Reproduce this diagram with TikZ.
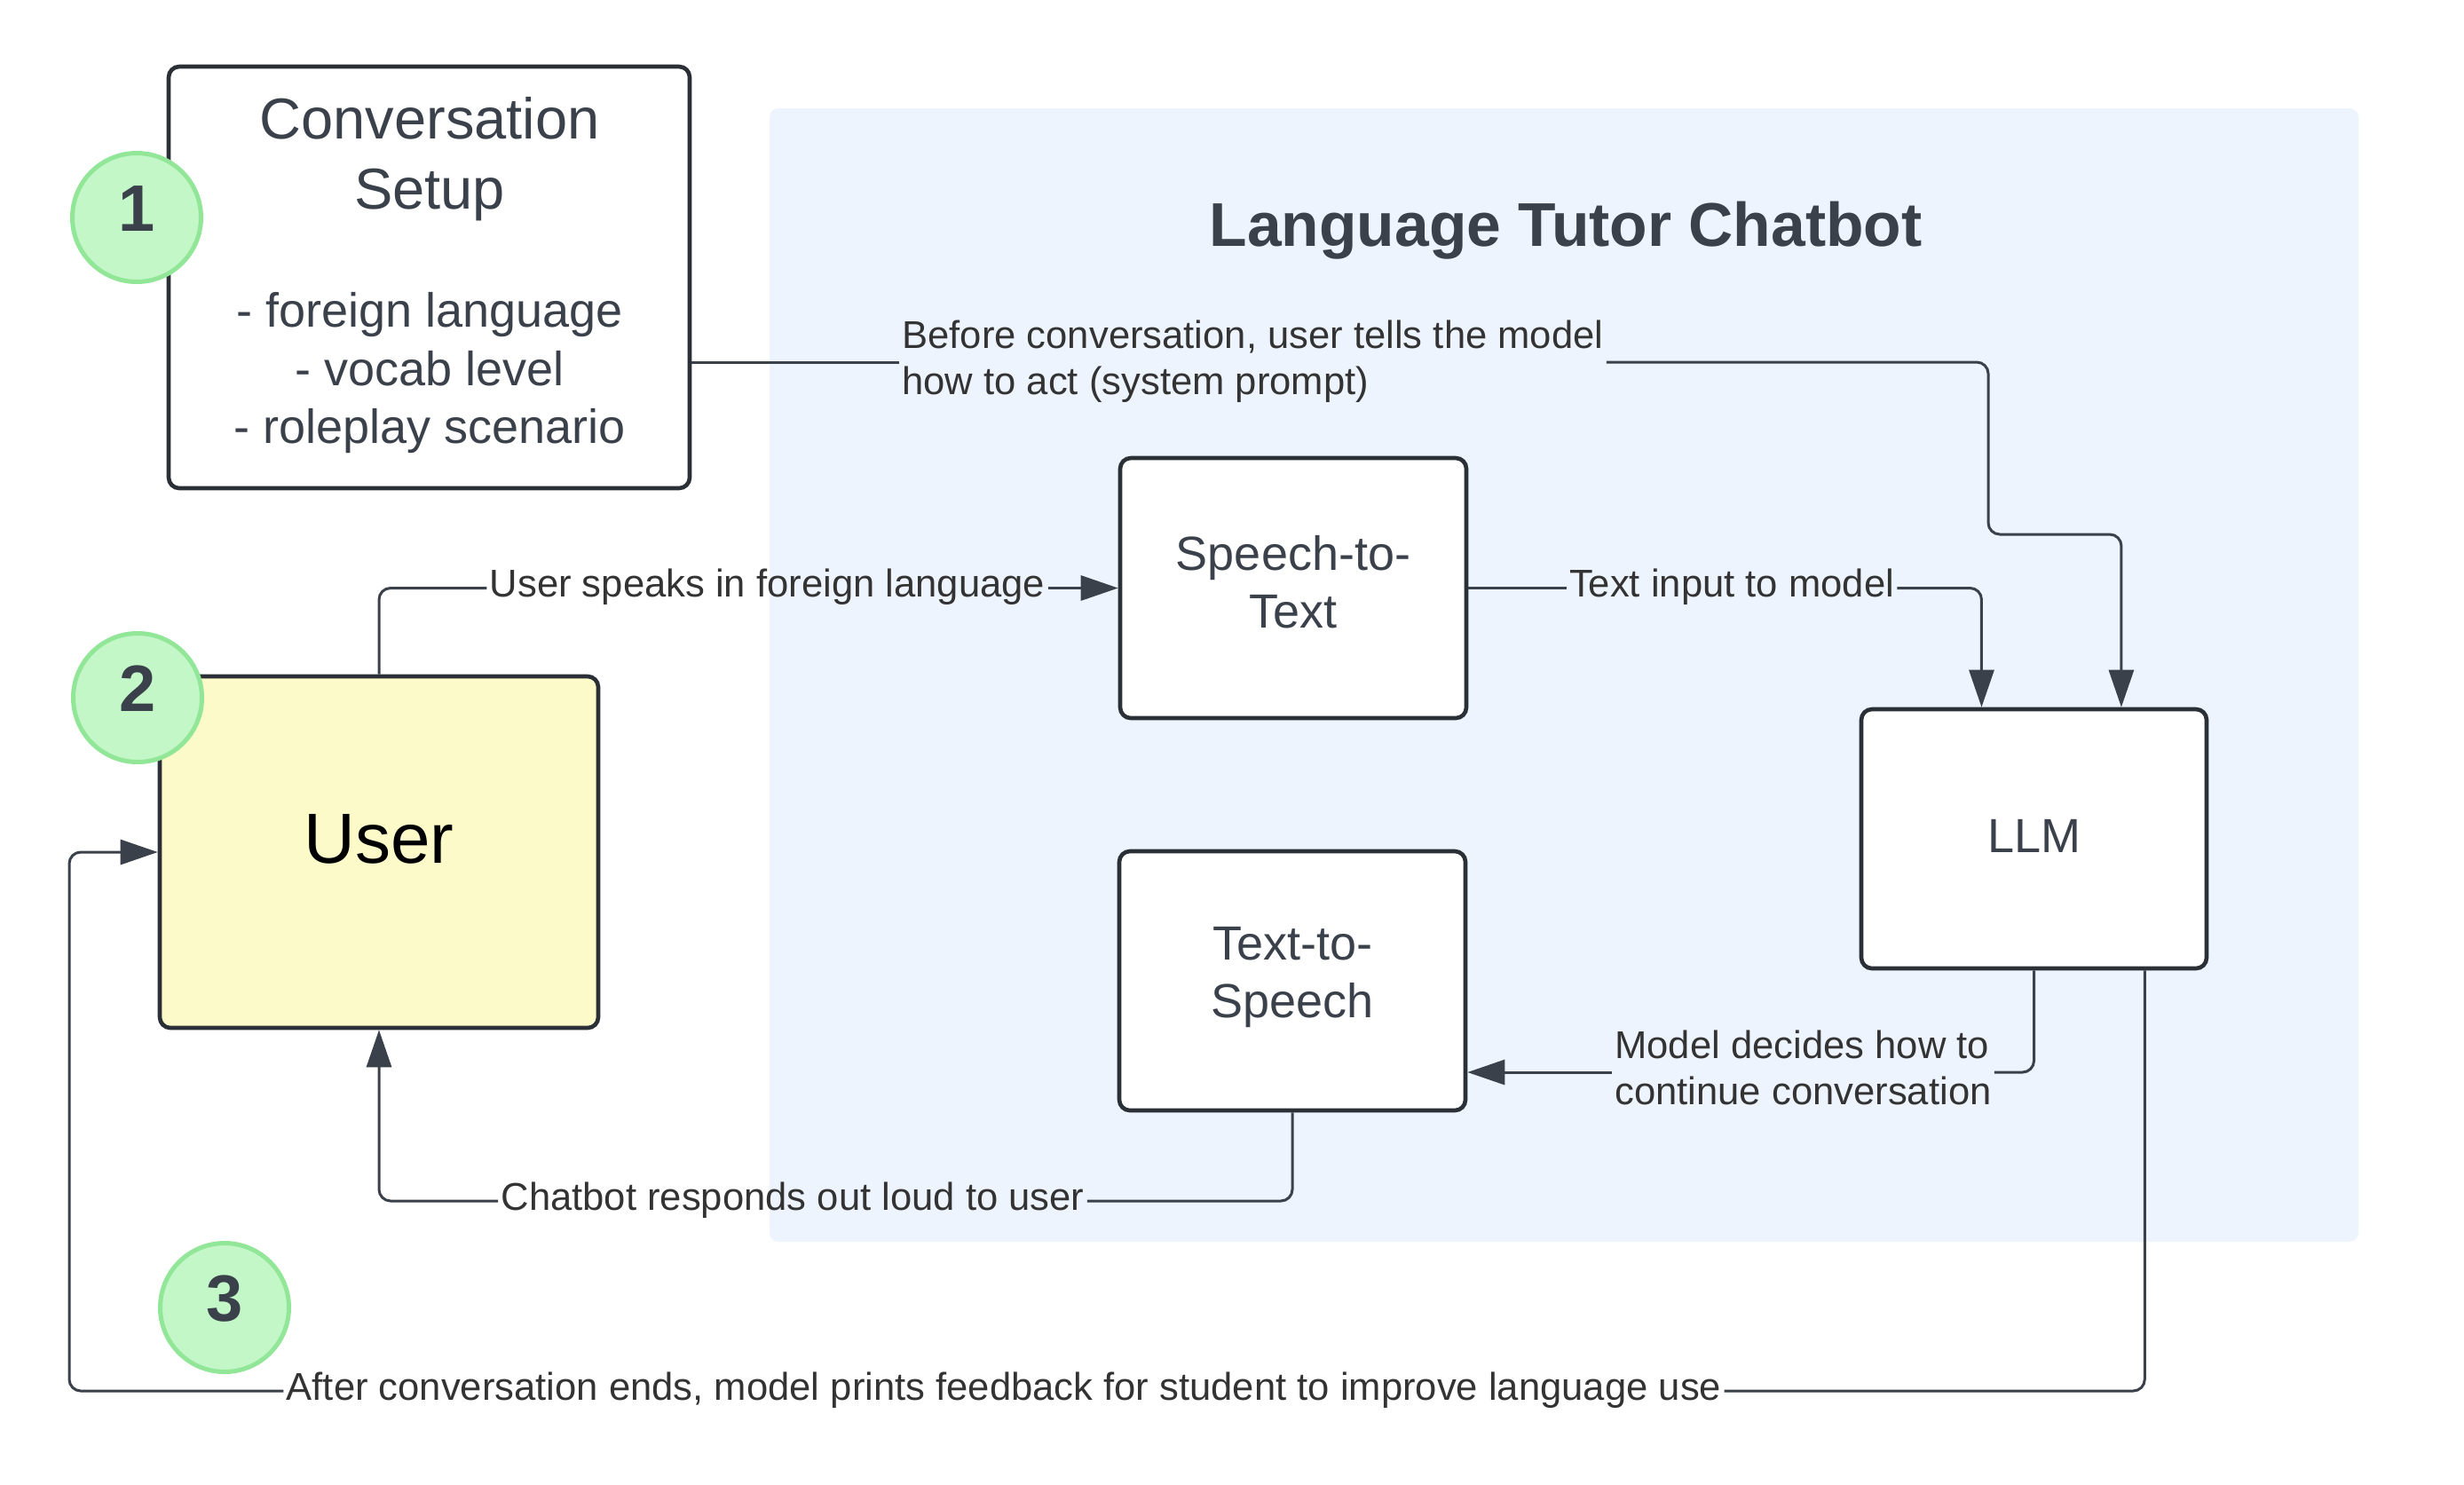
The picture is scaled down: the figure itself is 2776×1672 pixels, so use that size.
\documentclass[tikz,border=0pt]{standalone}
\usepackage{fontspec}
\setmainfont{Liberation Sans}
\usetikzlibrary{arrows.meta,calc}
\definecolor{ink}{HTML}{3A414A}
\definecolor{edge}{HTML}{2B2F36}
\definecolor{lbl}{HTML}{333333}
\definecolor{bluebg}{HTML}{EDF4FE}
\definecolor{userfill}{HTML}{FBFAC8}
\definecolor{greenfill}{HTML}{C3F7C8}
\definecolor{greenedge}{HTML}{91E698}
\begin{document}
\begin{tikzpicture}[x=0.5pt,y=-0.5pt,
  box/.style={draw=edge, line width=2.3pt, rounded corners=6pt, fill=white, text=ink, align=center, font=\fontsize{27}{32.5}\selectfont},
  boxtext/.style={anchor=base, text=ink, inner sep=0pt},
  conn/.style={draw=ink, line width=1.5pt, rounded corners=6.5pt},
  arr/.style={conn, -{Triangle[length=21pt,width=14pt]}},
  lab/.style={text=lbl, font=\fontsize{21.8}{26}\selectfont, inner xsep=1.5pt, inner ysep=0pt, align=left},
  badge/.style={circle, fill=greenfill, draw=greenedge, line width=2.5pt, minimum size=72.5pt, inner sep=0pt, text=ink, font=\fontsize{37}{37}\selectfont\bfseries, text height=26.5pt, text depth=11pt},
]
\useasboundingbox (0,0) rectangle (2776,1672);
\fill[white] (0,0) rectangle (2776,1672);

% chatbot area
\node[fill=bluebg, rounded corners=5pt, minimum width=895pt, minimum height=638.5pt, inner sep=0pt] (area) at (1762,760.5) {};
\node[anchor=base, text=ink, font=\fontsize{34.8}{40}\selectfont\bfseries] (title) at (1764,277) {Language Tutor Chatbot};

% setup box
\node[box, minimum width=293.5pt, minimum height=237.5pt] (setup) at (483.5,312.5) {};
\node[boxtext, font=\fontsize{32.5}{39}\selectfont] (setupA) at (484,156) {Conversation};
\node[boxtext, font=\fontsize{32.5}{39}\selectfont] (setupB) at (484,235) {Setup};
\node[boxtext, font=\fontsize{27}{32}\selectfont] (setupC) at (484,368) {- foreign language};
\node[boxtext, font=\fontsize{27}{32}\selectfont] (setupD) at (484,434) {- vocab level};
\node[boxtext, font=\fontsize{27}{32}\selectfont] (setupE) at (484,499) {- roleplay scenario};

% user
\node[box, fill=userfill, text=black, font=\fontsize{40}{48}\selectfont, text height=28.5pt, text depth=16.5pt, minimum width=247pt, minimum height=198pt] (user) at (427,960) {User};

% process boxes
\node[box, minimum width=195pt, minimum height=146.5pt, text depth=7pt] (stt) at (1457,662.5) {Speech-to-\\Text};
\node[box, minimum width=195pt, minimum height=146pt, text depth=10pt] (tts) at (1456,1105) {Text-to-\\Speech};
\node[box, minimum width=194.5pt, minimum height=146pt, text depth=3.5pt] (llm) at (2291.5,945) {LLM};

% labels
\node[lab, anchor=west] (labSetup) at (1013,408) {\strut Before conversation, user tells the model\\\strut how to act (system prompt)};
\node[lab] (labSpeak) at (864.5,662.5) {\strut User speaks in foreign language};
\node[lab] (labText) at (1951,662.5) {\strut Text input to model};
\node[lab, anchor=west] (labModel) at (1816,1208) {\strut Model decides how to\\\strut continue conversation};
\node[lab] (labChat) at (893,1353) {\strut Chatbot responds out loud to user};
\node[lab] (labAfter) at (1131,1567) {\strut After conversation ends, model prints feedback for student to improve language use};

% helper points
\coordinate (llmIn1) at ($(llm.north west)!0.35!(llm.north east)$);
\coordinate (llmIn2) at ($(llm.north west)!0.75!(llm.north east)$);
\coordinate (llmOut2) at ($(llm.south west)!0.817!(llm.south east)$);
\coordinate (setupBend) at (2240,602);
\coordinate (fbCorner) at (78,1567);

% connectors
\draw[conn] (setup.east |- labSetup.west) -- (labSetup.west);
\draw[arr] (labSetup.east) -| (setupBend) -| (llmIn2);

\draw[conn] (user.north) |- (labSpeak.west);
\draw[arr] (labSpeak.east) -- (stt.west);

\draw[conn] (stt.east) -- (labText.west);
\draw[arr] (labText.east) -| (llmIn1);

\draw[conn] (llm.south) |- (labModel.east);
\draw[arr] (labModel.west) -- (tts.east |- labModel.west);

\draw[conn] (tts.south) |- (labChat.east);
\draw[arr] (labChat.west) -| (user.south);

\draw[conn] (llmOut2) |- (labAfter.east);
\draw[arr] (labAfter.west) -- (fbCorner) |- (user.west);

% badges
\node[badge] (b1) at (154,245) {1};
\node[badge] (b2) at (155,786) {2};
\node[badge] (b3) at (253,1473) {3};
\end{tikzpicture}
\end{document}
